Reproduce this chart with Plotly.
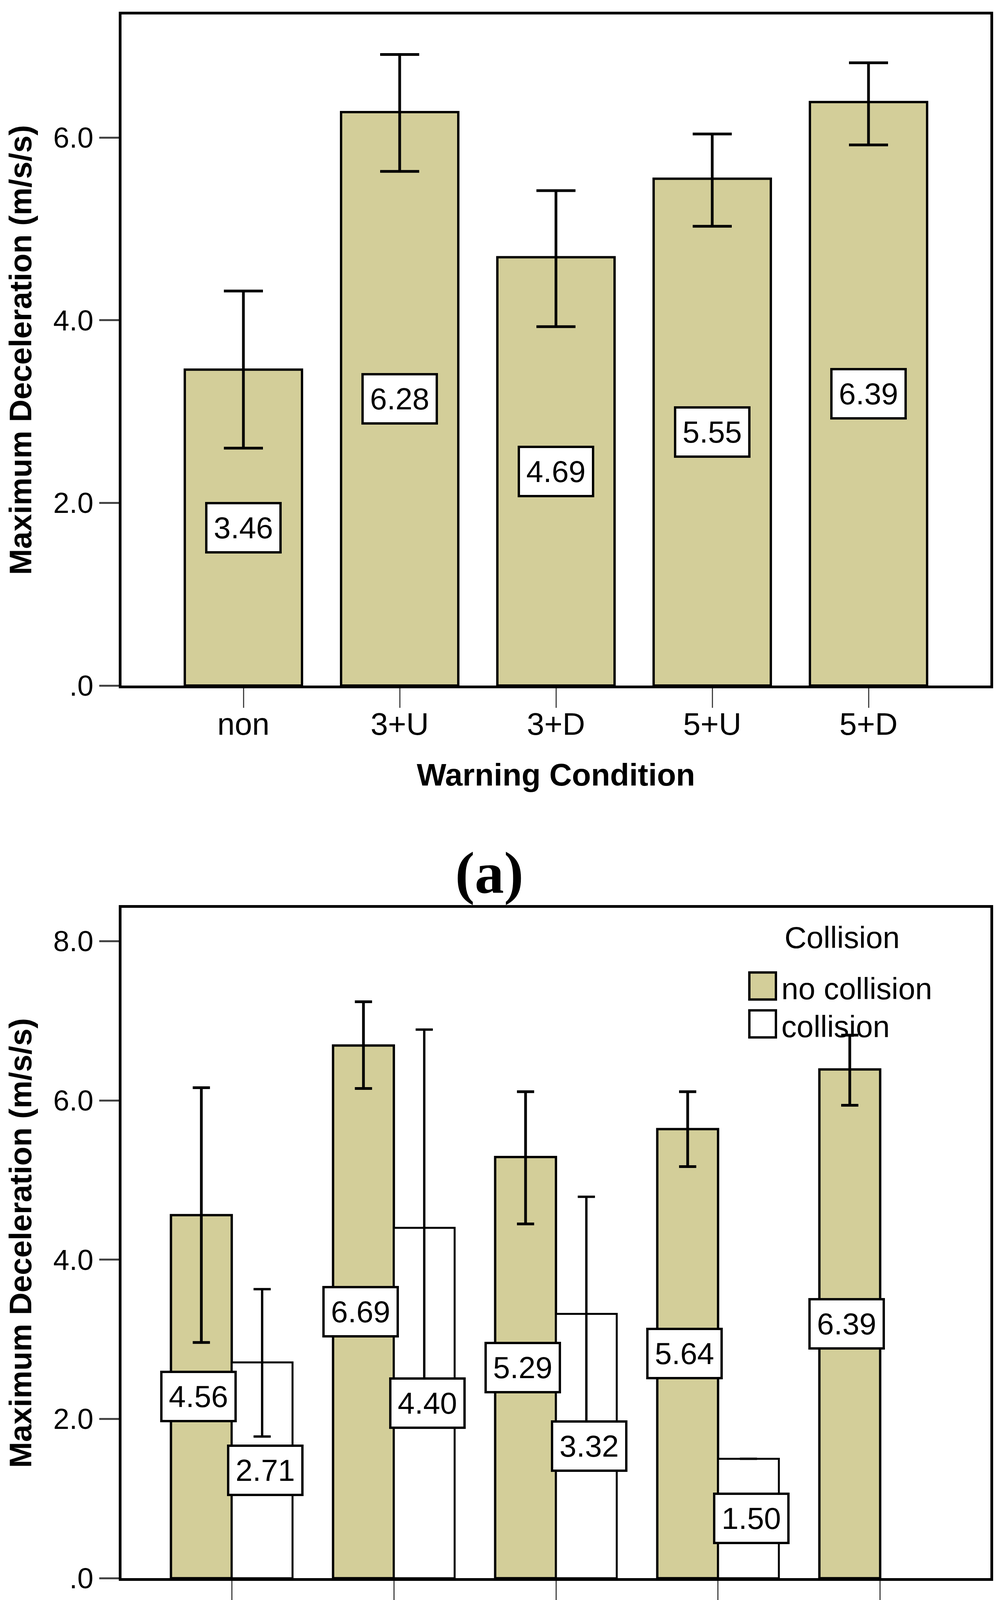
import plotly.graph_objects as go

# ---------------- data ----------------
conditions = ["non", "3+U", "3+D", "5+U", "5+D"]

# panel (a): overall means and 95% CI bounds
mean_a = [3.46, 6.28, 4.69, 5.55, 6.39]
ci_hi_a = [4.32, 6.91, 5.42, 6.04, 6.82]
ci_lo_a = [2.60, 5.63, 3.93, 5.03, 5.92]

# panel (b): split by collision
mean_nocol = [4.56, 6.69, 5.29, 5.64, 6.39]
ci_hi_nocol = [6.16, 7.24, 6.11, 6.11, 6.82]
ci_lo_nocol = [2.96, 6.15, 4.45, 5.17, 5.94]

mean_col = [2.71, 4.40, 3.32, 1.50, None]
ci_hi_col = [3.63, 6.89, 4.79, None, None]
ci_lo_col = [1.78, 1.91, 1.84, None, None]

yticks_a = [0, 2, 4, 6]
yticks_b = [0, 2, 4, 6, 8]
ytick_text_a = [".0", "2.0", "4.0", "6.0"]
ytick_text_b = [".0", "2.0", "4.0", "6.0", "8.0"]

# ---------------- style ----------------
W, H = 2557, 4650
TAN = "#D3CE99"
FONT = "Liberation Sans, Arial, sans-serif"
SERIF = "Liberation Serif, Times New Roman, serif"


def err(mean, hi, lo):
    up, dn = [], []
    for m, h, l in zip(mean, hi, lo):
        up.append(None if (m is None or h is None) else h - m)
        dn.append(None if (m is None or l is None) else m - l)
    return up, dn


fig = go.Figure()

# panel (a)
up, dn = err(mean_a, ci_hi_a, ci_lo_a)
fig.add_trace(go.Bar(
    x=conditions, y=mean_a, xaxis="x", yaxis="y",
    marker=dict(color=TAN, line=dict(color="black", width=6)),
    error_y=dict(type="data", symmetric=False, array=up, arrayminus=dn,
                 color="black", thickness=7, width=50),
    showlegend=False, name="all"))

# panel (b)
up, dn = err(mean_nocol, ci_hi_nocol, ci_lo_nocol)
fig.add_trace(go.Bar(
    x=conditions, y=mean_nocol, xaxis="x2", yaxis="y2", offsetgroup="nc",
    marker=dict(color=TAN, line=dict(color="black", width=6)),
    error_y=dict(type="data", symmetric=False, array=up, arrayminus=dn,
                 color="black", thickness=7, width=22),
    showlegend=False, name="no collision"))
up, dn = err(mean_col, ci_hi_col, ci_lo_col)
fig.add_trace(go.Bar(
    x=conditions, y=mean_col, xaxis="x2", yaxis="y2", offsetgroup="c",
    marker=dict(color="white", line=dict(color="black", width=5)),
    error_y=dict(type="data", symmetric=False, array=up, arrayminus=dn,
                 color="black", thickness=6, width=22),
    showlegend=False, name="collision"))

# value labels (boxed)
annotations = []
box = dict(bgcolor="white", bordercolor="black", borderwidth=6, borderpad=6,
           width=172, height=108, font=dict(family=FONT, size=78, color="black"),
           showarrow=False, xanchor="center", yanchor="middle")
for i, v in enumerate(mean_a):
    annotations.append(dict(x=i, y=v / 2, xref="x", yref="y", text=f"{v:.2f}", **box))
half = (1 - 0.176) / 4
for i, v in enumerate(mean_nocol):
    annotations.append(dict(x=i - half, y=v / 2, xref="x2", yref="y2", text=f"{v:.2f}", **box))
for i, v in enumerate(mean_col):
    if v is not None:
        annotations.append(dict(x=i + half, y=v / 2, xref="x2", yref="y2", text=f"{v:.2f}", **box))

# captions
annotations.append(dict(x=1244 / W, y=1 - 2247 / H, xref="paper", yref="paper",
                        text="<b>(a)</b>", showarrow=False,
                        font=dict(family=SERIF, size=150, color="black")))
annotations.append(dict(x=1355 / W, y=1 - 4556 / H, xref="paper", yref="paper",
                        text="<b>(b)</b>", showarrow=False,
                        font=dict(family=SERIF, size=150, color="black")))

# manual legend for panel (b)
legend_font = dict(family=FONT, size=78, color="black")
annotations.append(dict(x=2147 / W, y=1 - 2414 / H, xref="paper", yref="paper",
                        text="Collision", showarrow=False, xanchor="center",
                        yanchor="middle", font=legend_font))
annotations.append(dict(x=1990 / W, y=1 - 2546 / H, xref="paper", yref="paper",
                        text="no collision", showarrow=False, xanchor="left",
                        yanchor="middle", font=legend_font))
annotations.append(dict(x=1990 / W, y=1 - 2644 / H, xref="paper", yref="paper",
                        text="collision", showarrow=False, xanchor="left",
                        yanchor="middle", font=legend_font))
shapes = [
    dict(type="rect", xref="paper", yref="paper",
         x0=1910 / W, x1=1978 / W, y0=1 - 2574 / H, y1=1 - 2504 / H,
         fillcolor=TAN, line=dict(color="black", width=6)),
    dict(type="rect", xref="paper", yref="paper",
         x0=1910 / W, x1=1978 / W, y0=1 - 2672 / H, y1=1 - 2602 / H,
         fillcolor="white", line=dict(color="black", width=6)),
]

tickfont_y = dict(family=FONT, size=74, color="black")
tickfont_x = dict(family=FONT, size=80, color="black")
title_font = dict(family=FONT, size=80, color="black")


def xaxis(domain, rng, anchor):
    return dict(domain=domain, range=rng, anchor=anchor, type="category",
                showline=True, linecolor="black", linewidth=7, mirror=True,
                ticks="outside", ticklen=50, tickwidth=3, tickcolor="#444",
                ticklabelstandoff=-27,
                tickfont=tickfont_x, showgrid=False, zeroline=False,
                title=dict(text="<b>Warning Condition</b>", font=title_font, standoff=60),
                fixedrange=True)


def yaxis(domain, rng, anchor, vals, text):
    return dict(domain=domain, range=rng, anchor=anchor,
                showline=True, linecolor="black", linewidth=7, mirror=True,
                ticks="outside", ticklen=50, tickwidth=5, tickcolor="#444",
                tickvals=vals, ticktext=text, tickfont=tickfont_y,
                showgrid=False, zeroline=False,
                title=dict(text="<b>Maximum Deceleration (m/s/s)</b>", font=title_font, standoff=45),
                fixedrange=True)


xd = [303 / W, 2527 / W]
fig.update_layout(
    width=W, height=H,
    margin=dict(l=0, r=0, t=0, b=0),
    paper_bgcolor="white", plot_bgcolor="white",
    barmode="group", bargap=0.25, bargroupgap=0,
    xaxis=xaxis(xd, [-0.78, 4.78], "y"),
    yaxis=yaxis([1 - 1763 / H, 1 - 29 / H], [0, 7.35], "x", yticks_a, ytick_text_a),
    xaxis2=xaxis(xd, [-0.68, 4.68], "y2"),
    yaxis2=yaxis([1 - 4069 / H, 1 - 2337 / H], [0, 8.42], "x2", yticks_b, ytick_text_b),
    annotations=annotations,
    shapes=shapes,
    showlegend=False,
)

fig.write_html("out.html")
